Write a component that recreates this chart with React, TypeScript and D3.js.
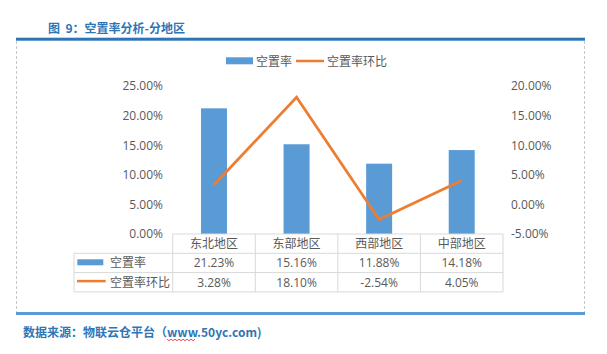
import { useEffect, useRef } from 'react';
import * as d3 from 'd3';

const categories = ['东北地区', '东部地区', '西部地区', '中部地区'];
const vacancy = [21.23, 15.16, 11.88, 14.18];
const vacancyMoM = [3.28, 18.1, -2.54, 4.05];
const leftTicks = [0, 5, 10, 15, 20, 25];
const rightTicks = [-5, 0, 5, 10, 15, 20];
const seriesNames = ['空置率', '空置率环比'];

const W = 607;
const H = 354;
const FONT = '"Open Sans", "Noto Sans CJK SC", sans-serif';
const CJK = '"Noto Sans CJK SC", sans-serif';
const BAR = '#5b9bd5';
const LINE = '#ed7d31';
const TEXT = '#595959';
const GRID = '#d9d9d9';

const App = () => {
  const svgRef = useRef(null);

  useEffect(() => {
    const svg = d3.select(svgRef.current);
    svg.selectAll('*').remove();

    const plotTop = 86;
    const plotBottom = 234;
    const rowH = 19.3;

    const x = d3.scaleBand().domain(categories).range([172.7, 503]);
    const yL = d3.scaleLinear().domain([0, 25]).range([plotBottom, plotTop]);
    const yR = d3.scaleLinear().domain([-5, 20]).range([plotBottom, plotTop]);
    const barW = x.bandwidth() * 0.315;
    const cx = (c) => x(c) + x.bandwidth() / 2;
    const pct = (v) => v.toFixed(2) + '%';

    // title + frame
    svg.append('text').attr('x', 48).attr('y', 32.5)
      .attr('font-family', CJK).attr('font-size', 12).attr('font-weight', 'bold')
      .style('white-space', 'pre')
      .attr('fill', '#2e75b6').text('图  9：空置率分析-分地区');
    svg.append('rect').attr('x', 16).attr('y', 37.7).attr('width', 569).attr('height', 3).attr('fill', '#2e75b6');
    [16.5, 584.5].forEach(px => {
      svg.append('line').attr('x1', px).attr('x2', px).attr('y1', 41).attr('y2', 312)
        .attr('stroke', '#c8c8c8').attr('stroke-dasharray', '3,2');
    });
    svg.append('rect').attr('x', 16).attr('y', 312).attr('width', 569).attr('height', 3).attr('fill', BAR);

    // footer
    svg.append('text').attr('x', 23).attr('y', 337)
      .attr('font-family', CJK).attr('font-size', 12).attr('font-weight', 'bold')
      .attr('fill', '#2e75b6').text('数据来源：物联云仓平台（www.50yc.com)');
    const wave = d3.range(0, 15).map(i => [167 + i * 2, 339.5 + (i % 2 ? 1.2 : -0.3)]);
    svg.append('path').attr('d', d3.line()(wave)).attr('fill', 'none').attr('stroke', '#e02020').attr('stroke-width', 0.8);

    // legend
    svg.append('rect').attr('x', 226).attr('y', 57.3).attr('width', 27).attr('height', 7).attr('fill', BAR);
    svg.append('text').attr('x', 256).attr('y', 65.5).attr('font-family', CJK).attr('font-size', 12)
      .attr('fill', TEXT).text(seriesNames[0]);
    svg.append('line').attr('x1', 296).attr('x2', 324).attr('y1', 61).attr('y2', 61)
      .attr('stroke', LINE).attr('stroke-width', 2.5);
    svg.append('text').attr('x', 327).attr('y', 65.5).attr('font-family', CJK).attr('font-size', 12)
      .attr('fill', TEXT).text(seriesNames[1]);

    // axes labels
    svg.append('g').selectAll('text').data(leftTicks).enter().append('text')
      .attr('x', 163).attr('y', d => yL(d) + 4.3).attr('text-anchor', 'end')
      .attr('font-family', FONT).attr('font-size', 12).attr('fill', TEXT)
      .text(d => pct(d));
    svg.append('g').selectAll('text').data(rightTicks).enter().append('text')
      .attr('x', 511).attr('y', d => yR(d) + 4.3)
      .attr('font-family', FONT).attr('font-size', 12).attr('fill', TEXT)
      .text(d => pct(d));

    // bars
    svg.append('g').selectAll('rect').data(vacancy).enter().append('rect')
      .attr('x', (d, i) => cx(categories[i]) - barW / 2)
      .attr('y', d => yL(d))
      .attr('width', barW)
      .attr('height', d => yL(0) - yL(d))
      .attr('fill', BAR);

    // line
    const line = d3.line()
      .x((d, i) => cx(categories[i]))
      .y(d => yR(d));
    svg.append('path').datum(vacancyMoM).attr('d', line)
      .attr('fill', 'none').attr('stroke', LINE).attr('stroke-width', 2.75)
      .attr('stroke-linejoin', 'miter');

    // data table
    const tbl = svg.append('g').attr('stroke', GRID).attr('stroke-width', 1).attr('fill', 'none');
    const tLeft = 74;
    const xs = [x(categories[0]), ...categories.map(c => x(c) + x.bandwidth())];
    const rows = [plotBottom, plotBottom + rowH, plotBottom + rowH * 2, plotBottom + rowH * 3];
    tbl.append('line').attr('x1', xs[0]).attr('x2', xs[xs.length - 1]).attr('y1', rows[0]).attr('y2', rows[0]);
    rows.slice(1).forEach(ry => {
      tbl.append('line').attr('x1', tLeft).attr('x2', xs[xs.length - 1]).attr('y1', ry).attr('y2', ry);
    });
    xs.forEach(px => {
      tbl.append('line').attr('x1', px).attr('x2', px).attr('y1', rows[0]).attr('y2', rows[3]);
    });
    tbl.append('line').attr('x1', tLeft).attr('x2', tLeft).attr('y1', rows[1]).attr('y2', rows[3]);

    const cell = (tx, ty, s, anchor = 'middle') => svg.append('text')
      .attr('x', tx).attr('y', ty).attr('text-anchor', anchor)
      .attr('font-family', FONT).attr('font-size', 12).attr('fill', TEXT).text(s);

    categories.forEach((c, i) => {
      cell(cx(c), rows[0] + 14.3, c);
      cell(cx(c), rows[1] + 14, pct(vacancy[i]));
      cell(cx(c), rows[2] + 14, pct(vacancyMoM[i]));
    });

    svg.append('rect').attr('x', 77.3).attr('y', rows[1] + 6).attr('width', 26).attr('height', 6).attr('fill', BAR);
    cell(110, rows[1] + 14, seriesNames[0], 'start');
    svg.append('line').attr('x1', 77).attr('x2', 105.7).attr('y1', rows[2] + 8.5).attr('y2', rows[2] + 8.5)
      .attr('stroke', LINE).attr('stroke-width', 2.5);
    cell(110, rows[2] + 14, seriesNames[1], 'start');
  }, []);

  return (
    <svg ref={svgRef} width={W} height={H}
      style={{ position: 'absolute', left: 0, top: 0, background: '#fff' }} />
  );
};

export default App;
